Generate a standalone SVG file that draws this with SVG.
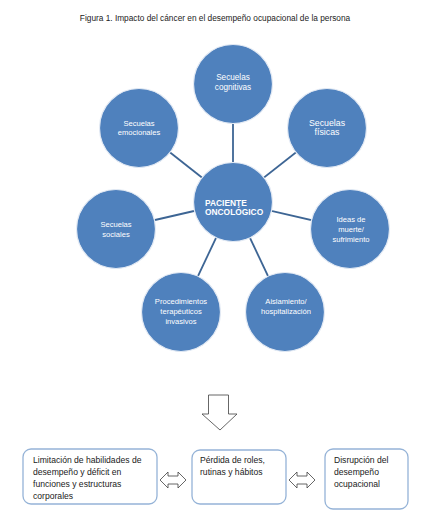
<svg xmlns="http://www.w3.org/2000/svg" width="432" height="524" viewBox="0 0 432 524">
<style>
.c{fill:#4F81BD;stroke:#E3EAF4;stroke-width:1.2}
.ct{font-family:"Liberation Sans",Arial,sans-serif;font-size:7.6px;fill:#fff;text-anchor:middle}
.ln{stroke:#3D6594;stroke-width:1.8}
.bx{fill:#fff;stroke:#95B3D7;stroke-width:1.3}
.bt{font-family:"Liberation Sans",Arial,sans-serif;font-size:8.6px;fill:#1a1a1a}
.ar{fill:#fff;stroke:#404040;stroke-width:0.8}
</style>
<rect width="432" height="524" fill="#fff"/>
<text x="215" y="21" font-family="Liberation Sans,Arial,sans-serif" font-size="8.3px" fill="#222" text-anchor="middle">Figura 1. Impacto del cáncer en el desempeño ocupacional de la persona</text>
<g id="connectors">
<line class="ln" x1="233" y1="202" x2="233" y2="84"/>
<line class="ln" x1="233" y1="202" x2="139" y2="128"/>
<line class="ln" x1="233" y1="202" x2="327" y2="128"/>
<line class="ln" x1="233" y1="202" x2="116" y2="229"/>
<line class="ln" x1="233" y1="202" x2="350" y2="229"/>
<line class="ln" x1="233" y1="202" x2="181" y2="312"/>
<line class="ln" x1="233" y1="202" x2="285" y2="312"/>
</g>
<g id="center">
<circle class="c" cx="233" cy="202" r="39.5"/>
<text class="ct" style="font-weight:bold;font-size:8.4px;text-anchor:start" x="205" y="206">PACIENTE</text>
<text class="ct" style="font-weight:bold;font-size:8.4px;text-anchor:start" x="205" y="215">ONCOLÓGICO</text>
</g>
<g id="cognitivas">
<circle class="c" cx="233" cy="84" r="39.5"/>
<text class="ct" style="font-size:8.2px" x="233" y="80">Secuelas</text>
<text class="ct" style="font-size:8.2px" x="233" y="90">cognitivas</text>
</g>
<g id="emocionales">
<circle class="c" cx="139" cy="128" r="39.5"/>
<text class="ct" x="139" y="126">Secuelas</text>
<text class="ct" x="139" y="135">emocionales</text>
</g>
<g id="fisicas">
<circle class="c" cx="327" cy="128" r="39.5"/>
<text class="ct" style="font-size:8.8px" x="327" y="126">Secuelas</text>
<text class="ct" style="font-size:8.8px" x="327" y="135">físicas</text>
</g>
<g id="sociales">
<circle class="c" cx="116" cy="229" r="39.5"/>
<text class="ct" x="116" y="227">Secuelas</text>
<text class="ct" x="116" y="237">sociales</text>
</g>
<g id="muerte">
<circle class="c" cx="350" cy="229" r="39.5"/>
<text class="ct" x="351" y="222">Ideas de</text>
<text class="ct" x="351" y="232">muerte/</text>
<text class="ct" x="351" y="242">sufrimiento</text>
</g>
<g id="procedimientos">
<circle class="c" cx="181" cy="312" r="39.5"/>
<text class="ct" x="181" y="304">Procedimientos</text>
<text class="ct" x="181" y="314">terapéuticos</text>
<text class="ct" x="181" y="324">invasivos</text>
</g>
<g id="aislamiento">
<circle class="c" cx="285" cy="312" r="39.5"/>
<text class="ct" x="286" y="304">Aislamiento/</text>
<text class="ct" x="286" y="314">hospitalización</text>
</g>
<g id="down-arrow">
<polygon class="ar" points="208.5,395 228.5,395 228.5,414 237,414 220,430 202,414 208.5,414"/>
</g>
<g id="box-limitacion">
<rect class="bx" x="23" y="449" width="134" height="55" rx="8"/>
<text class="bt" x="33" y="463">Limitación de habilidades de</text>
<text class="bt" x="33" y="475">desempeño y déficit en</text>
<text class="bt" x="33" y="487">funciones y estructuras</text>
<text class="bt" x="33" y="499">corporales</text>
</g>
<g id="box-perdida">
<rect class="bx" x="192" y="450" width="94" height="54" rx="8"/>
<text class="bt" x="200" y="463">Pérdida de roles,</text>
<text class="bt" x="200" y="475">rutinas y hábitos</text>
</g>
<g id="box-disrupcion">
<rect class="bx" x="325" y="449" width="83" height="60" rx="8"/>
<text class="bt" x="334" y="463">Disrupción del</text>
<text class="bt" x="334" y="475">desempeño</text>
<text class="bt" x="334" y="487">ocupacional</text>
</g>
<g id="double-arrows">
<polygon class="ar" points="160,480 168,472 168,476 178,476 178,472 186,480 178,488 178,484 168,484 168,488"/>
<polygon class="ar" points="289,480 297,472 297,476 307,476 307,472 315,480 307,488 307,484 297,484 297,488"/>
</g>
</svg>
